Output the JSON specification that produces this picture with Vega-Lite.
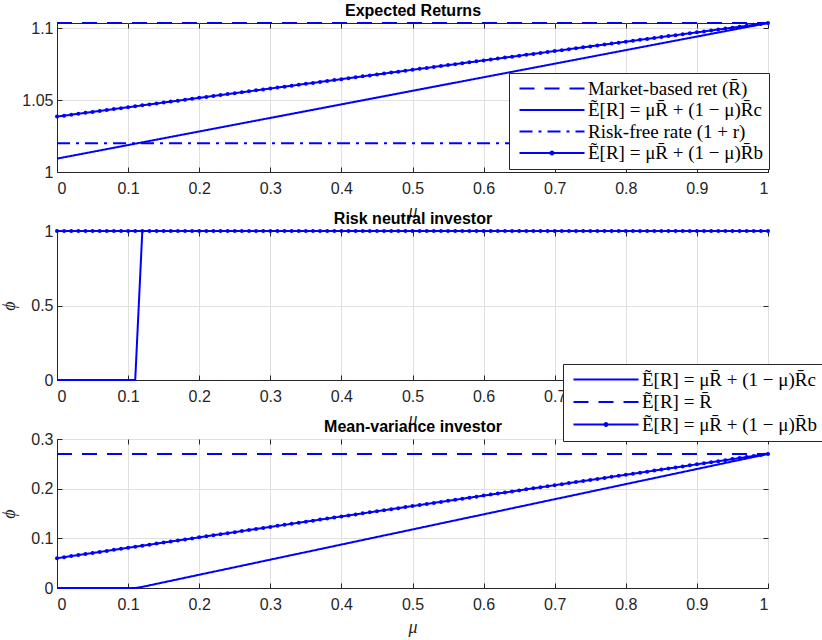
{
  "$schema": "https://vega.github.io/schema/vega-lite/v6.json",
  "padding": {"left": 0, "top": 2, "right": 0, "bottom": 0},
  "background": "white",
  "config": {
    "view": {"stroke": "#262626", "strokeWidth": 1},
    "axis": {
      "labelFont": "Liberation Sans", "labelFontSize": 16, "labelColor": "#262626",
      "tickColor": "#262626", "domainColor": "#262626", "gridColor": "#e0e0e0",
      "tickSize": -5, "labelPadding": 13,
      "titleFont": "Liberation Serif", "titleFontStyle": "italic", "titleFontWeight": "normal",
      "titleFontSize": 18, "titleColor": "#262626"
    },
    "axisTop": {"titleFont": "Liberation Sans", "titleFontStyle": "normal", "titleFontWeight": "bold", "titleFontSize": 16, "titleColor": "#000000", "titlePadding": 4},
    "axisBottom": {"titlePadding": 6},
    "axisLeft": {"titlePadding": 12},
    "legend": {
      "labelFont": "Liberation Serif", "labelFontSize": 19, "labelColor": "#000000",
      "symbolType": "M-1,0H12", "symbolSize": 100, "symbolStrokeWidth": 2, "symbolStrokeColor": "#0000ff",
      "strokeColor": "#262626", "fillColor": "#ffffff", "padding": 6, "labelOffset": 54, "rowPadding": 3, "labelLimit": 400,
      "symbolOpacity": 1
    }
  },
  "datasets": {
    "b": [
      {"m":0,"e":1.0385,"v":0.06},{"m":0.01,"e":1.03915,"v":0.0621},{"m":0.02,"e":1.0398,"v":0.0642},{"m":0.03,"e":1.04045,"v":0.0663},{"m":0.04,"e":1.0411,"v":0.0684},
      {"m":0.05,"e":1.04175,"v":0.0705},{"m":0.06,"e":1.0424,"v":0.0726},{"m":0.07,"e":1.04305,"v":0.0747},{"m":0.08,"e":1.0437,"v":0.0768},{"m":0.09,"e":1.04435,"v":0.0789},
      {"m":0.1,"e":1.045,"v":0.081},{"m":0.11,"e":1.04565,"v":0.0831},{"m":0.12,"e":1.0463,"v":0.0852},{"m":0.13,"e":1.04695,"v":0.0873},{"m":0.14,"e":1.0476,"v":0.0894},
      {"m":0.15,"e":1.04825,"v":0.0915},{"m":0.16,"e":1.0489,"v":0.0936},{"m":0.17,"e":1.04955,"v":0.0957},{"m":0.18,"e":1.0502,"v":0.0978},{"m":0.19,"e":1.05085,"v":0.0999},
      {"m":0.2,"e":1.0515,"v":0.102},{"m":0.21,"e":1.05215,"v":0.1041},{"m":0.22,"e":1.0528,"v":0.1062},{"m":0.23,"e":1.05345,"v":0.1083},{"m":0.24,"e":1.0541,"v":0.1104},
      {"m":0.25,"e":1.05475,"v":0.1125},{"m":0.26,"e":1.0554,"v":0.1146},{"m":0.27,"e":1.05605,"v":0.1167},{"m":0.28,"e":1.0567,"v":0.1188},{"m":0.29,"e":1.05735,"v":0.1209},
      {"m":0.3,"e":1.058,"v":0.123},{"m":0.31,"e":1.05865,"v":0.1251},{"m":0.32,"e":1.0593,"v":0.1272},{"m":0.33,"e":1.05995,"v":0.1293},{"m":0.34,"e":1.0606,"v":0.1314},
      {"m":0.35,"e":1.06125,"v":0.1335},{"m":0.36,"e":1.0619,"v":0.1356},{"m":0.37,"e":1.06255,"v":0.1377},{"m":0.38,"e":1.0632,"v":0.1398},{"m":0.39,"e":1.06385,"v":0.1419},
      {"m":0.4,"e":1.0645,"v":0.144},{"m":0.41,"e":1.06515,"v":0.1461},{"m":0.42,"e":1.0658,"v":0.1482},{"m":0.43,"e":1.06645,"v":0.1503},{"m":0.44,"e":1.0671,"v":0.1524},
      {"m":0.45,"e":1.06775,"v":0.1545},{"m":0.46,"e":1.0684,"v":0.1566},{"m":0.47,"e":1.06905,"v":0.1587},{"m":0.48,"e":1.0697,"v":0.1608},{"m":0.49,"e":1.07035,"v":0.1629},
      {"m":0.5,"e":1.071,"v":0.165},{"m":0.51,"e":1.07165,"v":0.1671},{"m":0.52,"e":1.0723,"v":0.1692},{"m":0.53,"e":1.07295,"v":0.1713},{"m":0.54,"e":1.0736,"v":0.1734},
      {"m":0.55,"e":1.07425,"v":0.1755},{"m":0.56,"e":1.0749,"v":0.1776},{"m":0.57,"e":1.07555,"v":0.1797},{"m":0.58,"e":1.0762,"v":0.1818},{"m":0.59,"e":1.07685,"v":0.1839},
      {"m":0.6,"e":1.0775,"v":0.186},{"m":0.61,"e":1.07815,"v":0.1881},{"m":0.62,"e":1.0788,"v":0.1902},{"m":0.63,"e":1.07945,"v":0.1923},{"m":0.64,"e":1.0801,"v":0.1944},
      {"m":0.65,"e":1.08075,"v":0.1965},{"m":0.66,"e":1.0814,"v":0.1986},{"m":0.67,"e":1.08205,"v":0.2007},{"m":0.68,"e":1.0827,"v":0.2028},{"m":0.69,"e":1.08335,"v":0.2049},
      {"m":0.7,"e":1.084,"v":0.207},{"m":0.71,"e":1.08465,"v":0.2091},{"m":0.72,"e":1.0853,"v":0.2112},{"m":0.73,"e":1.08595,"v":0.2133},{"m":0.74,"e":1.0866,"v":0.2154},
      {"m":0.75,"e":1.08725,"v":0.2175},{"m":0.76,"e":1.0879,"v":0.2196},{"m":0.77,"e":1.08855,"v":0.2217},{"m":0.78,"e":1.0892,"v":0.2238},{"m":0.79,"e":1.08985,"v":0.2259},
      {"m":0.8,"e":1.0905,"v":0.228},{"m":0.81,"e":1.09115,"v":0.2301},{"m":0.82,"e":1.0918,"v":0.2322},{"m":0.83,"e":1.09245,"v":0.2343},{"m":0.84,"e":1.0931,"v":0.2364},
      {"m":0.85,"e":1.09375,"v":0.2385},{"m":0.86,"e":1.0944,"v":0.2406},{"m":0.87,"e":1.09505,"v":0.2427},{"m":0.88,"e":1.0957,"v":0.2448},{"m":0.89,"e":1.09635,"v":0.2469},
      {"m":0.9,"e":1.097,"v":0.249},{"m":0.91,"e":1.09765,"v":0.2511},{"m":0.92,"e":1.0983,"v":0.2532},{"m":0.93,"e":1.09895,"v":0.2553},{"m":0.94,"e":1.0996,"v":0.2574},
      {"m":0.95,"e":1.10025,"v":0.2595},{"m":0.96,"e":1.1009,"v":0.2616},{"m":0.97,"e":1.10155,"v":0.2637},{"m":0.98,"e":1.1022,"v":0.2658},{"m":0.99,"e":1.10285,"v":0.2679},
      {"m":1,"e":1.1035,"v":0.27}
    ]
  },
  "vconcat": [
    {
      "width": 711, "height": 149,
      "layer": [
        {
          "data": {"values": [{"m":0,"y":1.1035},{"m":1,"y":1.1035}]},
          "mark": {"type": "line", "color": "#0000ff", "strokeWidth": 2},
          "encoding": {
            "x": {"field": "m", "type": "quantitative", "scale": {"domain": [0, 1], "nice": false}, "axis": {"orient": "bottom", "values": [0,0.1,0.2,0.3,0.4,0.5,0.6,0.7,0.8,0.9,1], "format": "~g", "title": "μ"}},
            "y": {"field": "y", "type": "quantitative", "scale": {"domain": [1, 1.1035], "nice": false}, "axis": {"orient": "left", "values": [1,1.05,1.1], "format": "~g", "title": null, "labelPadding": 9}},
            "strokeDash": {"datum": "Market-based ret (R\u0304)", "type": "nominal",
              "scale": {"domain": ["Market-based ret (R\u0304)", "Ẽ[R] = μR\u0304 + (1 − μ)R\u0304c", "Risk-free rate (1 + r)", "Ẽ[R] = μR\u0304 + (1 − μ)R\u0304b"], "range": [[15,10],[1,0],[13,6,3,6],[1,0]]},
              "legend": {"orient": "none", "legendX": 452, "legendY": 50, "title": null, "labelFontSize": 19, "rowPadding": 1.5,
                "encode": {"symbols": {"update": {"stroke": {"value": "#0000ff"}, "fill": {"value": "#0000ff"}, "strokeWidth": {"value": 2}, "opacity": {"value": 1},
                  "shape": {"signal": "datum.index === 3 ? 'M-1,0H12M5.5,-0.3A0.3,0.3,0,1,1,5.5,0.3A0.3,0.3,0,1,1,5.5,-0.3Z' : 'M-1,0H12'"}}}}}}
          }
        },
        {
          "data": {"values": [{"m":0,"y":1.0093},{"m":1,"y":1.1035}]},
          "mark": {"type": "line", "color": "#0000ff", "strokeWidth": 2},
          "encoding": {
            "x": {"field": "m", "type": "quantitative", "axis": {"orient": "top", "values": [0,0.1,0.2,0.3,0.4,0.5,0.6,0.7,0.8,0.9,1], "labels": false, "grid": false, "domain": false, "title": "Expected Returns"}},
            "y": {"field": "y", "type": "quantitative", "axis": {"orient": "right", "values": [1,1.05,1.1], "labels": false, "grid": false, "domain": false, "title": null}},
            "strokeDash": {"datum": "Ẽ[R] = μR\u0304 + (1 − μ)R\u0304c", "type": "nominal"}
          }
        },
        {
          "data": {"values": [{"m":0,"y":1.02},{"m":1,"y":1.02}]},
          "mark": {"type": "line", "color": "#0000ff", "strokeWidth": 2},
          "encoding": {
            "x": {"field": "m", "type": "quantitative", "axis": null},
            "y": {"field": "y", "type": "quantitative", "axis": null},
            "strokeDash": {"datum": "Risk-free rate (1 + r)", "type": "nominal"}
          }
        },
        {
          "data": {"name": "b"},
          "mark": {"type": "line", "color": "#0000ff", "strokeWidth": 2, "point": {"filled": true, "size": 16, "color": "#0000ff"}},
          "encoding": {
            "x": {"field": "m", "type": "quantitative", "axis": null},
            "y": {"field": "e", "type": "quantitative", "axis": null},
            "strokeDash": {"datum": "Ẽ[R] = μR\u0304 + (1 − μ)R\u0304b", "type": "nominal"}
          }
        }
      ],
      "resolve": {"axis": {"x": "independent", "y": "independent"}}
    },
    {
      "width": 711, "height": 149,
      "layer": [
        {
          "data": {"values": [{"m":0,"y":0},{"m":0.11,"y":0},{"m":0.12,"y":1},{"m":1,"y":1}]},
          "mark": {"type": "line", "color": "#0000ff", "strokeWidth": 2},
          "encoding": {
            "x": {"field": "m", "type": "quantitative", "scale": {"domain": [0, 1], "nice": false}, "axis": {"orient": "bottom", "values": [0,0.1,0.2,0.3,0.4,0.5,0.6,0.7,0.8,0.9,1], "format": "~g", "title": "μ"}},
            "y": {"field": "y", "type": "quantitative", "scale": {"domain": [0, 1], "nice": false}, "axis": {"orient": "left", "values": [0,0.5,1], "format": "~g", "title": "ϕ", "labelPadding": 9}}
          }
        },
        {
          "data": {"values": [{"m":0,"y":1},{"m":1,"y":1}]},
          "mark": {"type": "line", "color": "#0000ff", "strokeWidth": 2, "strokeDash": [15,10]},
          "encoding": {
            "x": {"field": "m", "type": "quantitative", "axis": {"orient": "top", "values": [0,0.1,0.2,0.3,0.4,0.5,0.6,0.7,0.8,0.9,1], "labels": false, "grid": false, "domain": false, "title": "Risk neutral investor"}},
            "y": {"field": "y", "type": "quantitative", "axis": {"orient": "right", "values": [0,0.5,1], "labels": false, "grid": false, "domain": false, "title": null}}
          }
        },
        {
          "data": {"name": "b"},
          "mark": {"type": "line", "color": "#0000ff", "strokeWidth": 2, "point": {"filled": true, "size": 16, "color": "#0000ff"}},
          "encoding": {
            "x": {"field": "m", "type": "quantitative", "axis": null},
            "y": {"datum": 1, "type": "quantitative", "axis": null}
          }
        }
      ],
      "resolve": {"axis": {"x": "independent", "y": "independent"}}
    },
    {
      "width": 711, "height": 149,
      "layer": [
        {
          "data": {"values": [{"m":0,"y":0},{"m":0.11,"y":0},{"m":0.12,"y":0.0023},{"m":1,"y":0.27}]},
          "mark": {"type": "line", "color": "#0000ff", "strokeWidth": 2},
          "encoding": {
            "x": {"field": "m", "type": "quantitative", "scale": {"domain": [0, 1], "nice": false}, "axis": {"orient": "bottom", "values": [0,0.1,0.2,0.3,0.4,0.5,0.6,0.7,0.8,0.9,1], "format": "~g", "title": "μ"}},
            "y": {"field": "y", "type": "quantitative", "scale": {"domain": [0, 0.3], "nice": false}, "axis": {"orient": "left", "values": [0,0.1,0.2,0.3], "format": "~g", "title": "ϕ", "labelPadding": 9}},
            "strokeDash": {"datum": "Ẽ[R] = μR\u0304 + (1 − μ)R\u0304c", "type": "nominal",
              "scale": {"domain": ["Ẽ[R] = μR\u0304 + (1 − μ)R\u0304c", "Ẽ[R] = R\u0304", "Ẽ[R] = μR\u0304 + (1 − μ)R\u0304b"], "range": [[1,0],[15,10],[1,0]]},
              "legend": {"orient": "none", "legendX": 506, "legendY": -75, "title": null, "labelFontSize": 19, "rowPadding": 2.5,
                "encode": {"symbols": {"update": {"stroke": {"value": "#0000ff"}, "fill": {"value": "#0000ff"}, "strokeWidth": {"value": 2}, "opacity": {"value": 1},
                  "shape": {"signal": "datum.index === 2 ? 'M-1,0H12M5.5,-0.3A0.3,0.3,0,1,1,5.5,0.3A0.3,0.3,0,1,1,5.5,-0.3Z' : 'M-1,0H12'"}}}}}}
          }
        },
        {
          "data": {"values": [{"m":0,"y":0.27},{"m":1,"y":0.27}]},
          "mark": {"type": "line", "color": "#0000ff", "strokeWidth": 2},
          "encoding": {
            "x": {"field": "m", "type": "quantitative", "axis": {"orient": "top", "values": [0,0.1,0.2,0.3,0.4,0.5,0.6,0.7,0.8,0.9,1], "labels": false, "grid": false, "domain": false, "title": "Mean-variance investor"}},
            "y": {"field": "y", "type": "quantitative", "axis": {"orient": "right", "values": [0,0.1,0.2,0.3], "labels": false, "grid": false, "domain": false, "title": null}},
            "strokeDash": {"datum": "Ẽ[R] = R\u0304", "type": "nominal"}
          }
        },
        {
          "data": {"name": "b"},
          "mark": {"type": "line", "color": "#0000ff", "strokeWidth": 2, "point": {"filled": true, "size": 16, "color": "#0000ff"}},
          "encoding": {
            "x": {"field": "m", "type": "quantitative", "axis": null},
            "y": {"field": "v", "type": "quantitative", "axis": null},
            "strokeDash": {"datum": "Ẽ[R] = μR\u0304 + (1 − μ)R\u0304b", "type": "nominal"}
          }
        }
      ],
      "resolve": {"axis": {"x": "independent", "y": "independent"}}
    }
  ],
  "spacing": 59,
  "bounds": "flush",
  "resolve": {"scale": {"strokeDash": "independent"}, "legend": {"strokeDash": "independent"}}
}
